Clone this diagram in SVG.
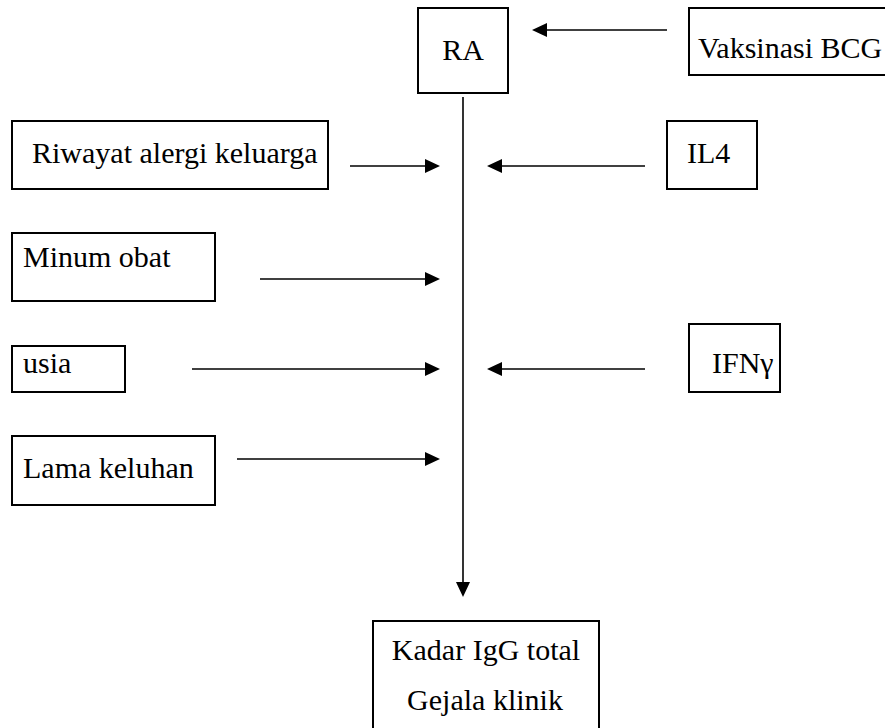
<svg xmlns="http://www.w3.org/2000/svg" width="885" height="728" viewBox="0 0 885 728">
<style>
.box{fill:#fff;stroke:#000;stroke-width:2}
.t{font-family:"Liberation Serif","Times New Roman","DejaVu Serif",serif;font-size:30px;fill:#000}
.c{text-anchor:middle}
.ln{stroke:#000;stroke-width:1.6;fill:none;marker-end:url(#ah)}
</style>
<defs>
<marker id="ah" markerUnits="userSpaceOnUse" markerWidth="15" markerHeight="14" refX="13" refY="7" orient="auto">
<path d="M0,0 L15,7 L0,14 z" fill="#000"/>
</marker>
</defs>
<rect width="885" height="728" fill="#fff"/>
<g id="connectors">
<line class="ln" x1="667" y1="30" x2="534" y2="30"/>
<line class="ln" x1="463" y1="97" x2="463" y2="595"/>
<line class="ln" x1="350" y1="166" x2="438" y2="166"/>
<line class="ln" x1="645" y1="166" x2="489" y2="166"/>
<line class="ln" x1="260" y1="279" x2="438" y2="279"/>
<line class="ln" x1="192" y1="369" x2="438" y2="369"/>
<line class="ln" x1="645" y1="369" x2="489" y2="369"/>
<line class="ln" x1="237" y1="459" x2="438" y2="459"/>
</g>
<g id="node-ra">
<rect class="box" x="418" y="8" width="90" height="85"/>
<text class="t c" x="463" y="60" font-family="Liberation Serif, serif">RA</text>
</g>
<g id="node-vaksinasi">
<rect class="box" x="689" y="8" width="210" height="67"/>
<text class="t" x="698" y="58" font-family="Liberation Serif, serif">Vaksinasi BCG</text>
</g>
<g id="node-riwayat">
<rect class="box" x="12" y="121" width="316" height="68"/>
<text class="t" x="32" y="163" font-family="Liberation Serif, serif">Riwayat alergi keluarga</text>
</g>
<g id="node-il4">
<rect class="box" x="667" y="121" width="90" height="68"/>
<text class="t" x="687" y="163" font-family="Liberation Serif, serif">IL4</text>
</g>
<g id="node-minum">
<rect class="box" x="12" y="233" width="203" height="68"/>
<text class="t" x="23" y="267" font-family="Liberation Serif, serif">Minum obat</text>
</g>
<g id="node-usia">
<rect class="box" x="12" y="346" width="113" height="46"/>
<text class="t" x="23" y="373" font-family="Liberation Serif, serif">usia</text>
</g>
<g id="node-ifn">
<rect class="box" x="689" y="324" width="91" height="68"/>
<text class="t" x="712" y="373" font-family="Liberation Serif, serif">IFNγ</text>
</g>
<g id="node-lama">
<rect class="box" x="12" y="436" width="203" height="69"/>
<text class="t" x="23" y="478" font-family="Liberation Serif, serif">Lama keluhan</text>
</g>
<g id="node-kadar">
<rect class="box" x="373" y="621" width="226" height="130"/>
<text class="t c" x="486" y="660" font-family="Liberation Serif, serif">Kadar IgG total</text>
<text class="t c" x="485" y="710" font-family="Liberation Serif, serif">Gejala klinik</text>
</g>
</svg>
